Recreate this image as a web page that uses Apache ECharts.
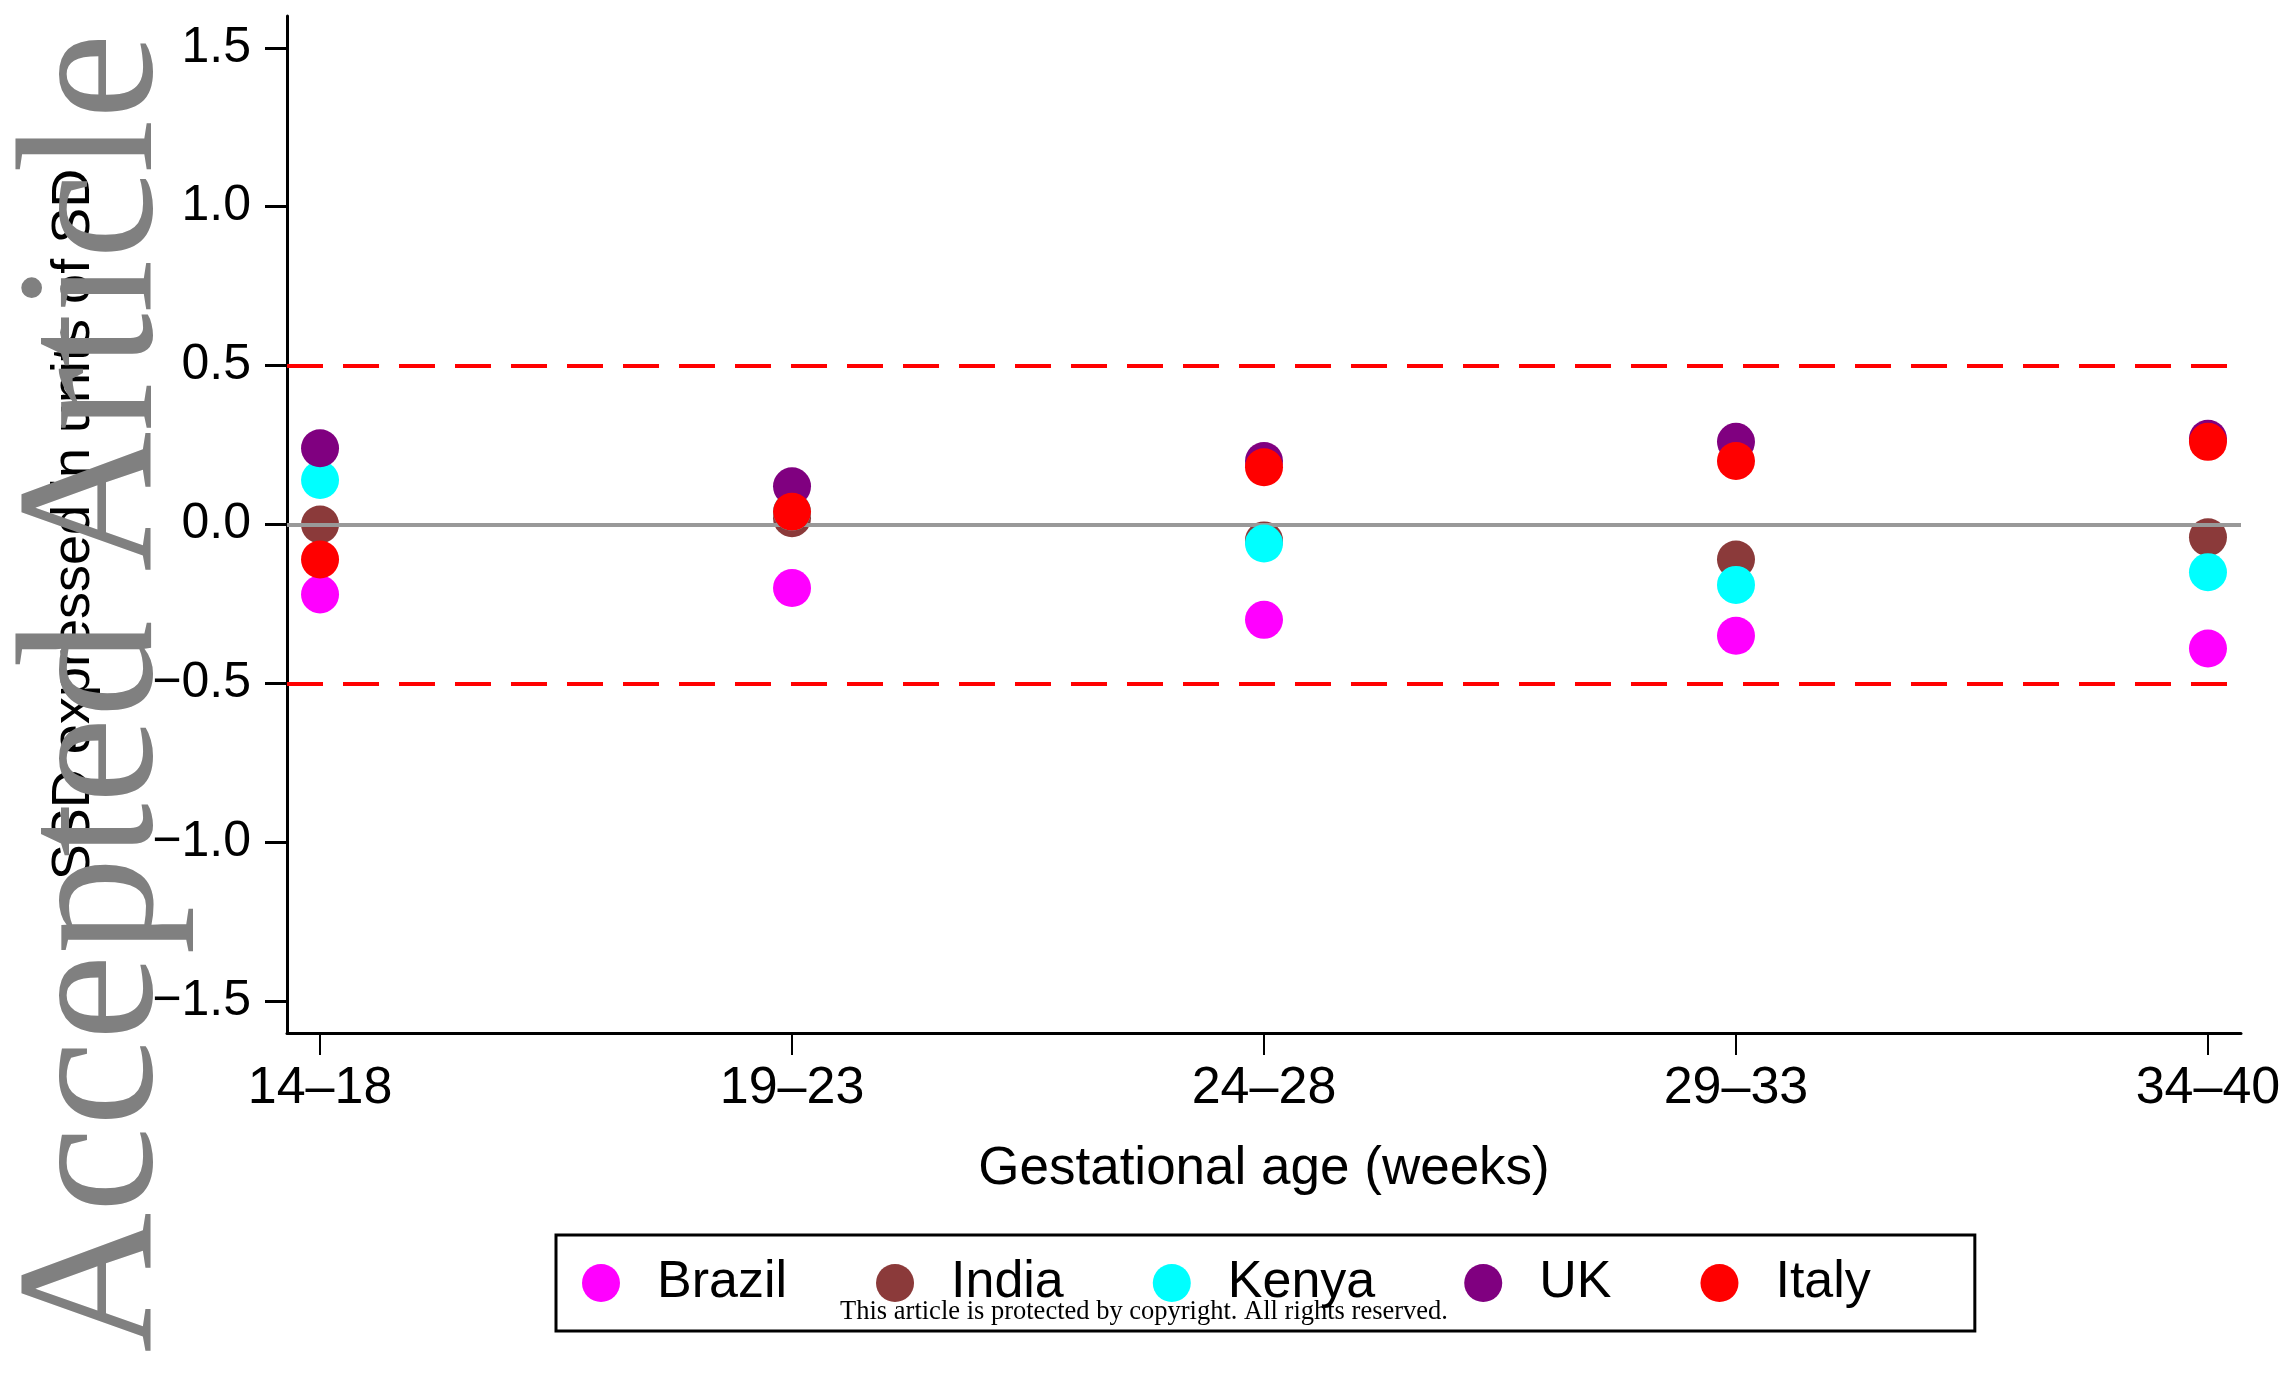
<!DOCTYPE html>
<html>
<head>
<meta charset="utf-8">
<script src="https://cdn.jsdelivr.net/npm/echarts@6/dist/echarts.min.js"></script>
<style>
    html, body { margin: 0; padding: 0; background: #fff; }
    #chart { width: 2289px; height: 1394px; }
</style>
</head>
<body>
<div id="chart"></div>
<script>
// gestational age groups (x axis)
var ageGroups = ['14–18', '19–23', '24–28', '29–33', '34–40'];
var yTicks = [-1.5, -1.0, -0.5, 0, 0.5, 1.0, 1.5];
var countries = ['Brazil', 'India', 'Kenya', 'UK', 'Italy'];
var countryColors = ['#ff00ff', '#8b3a3a', '#00ffff', '#800080', '#ff0000'];

// SSD in units of SD, one value per age group
var brazil = [-0.22, -0.20, -0.30, -0.35, -0.39];
var india = [0.00, 0.02, -0.05, -0.11, -0.04];
var kenya = [0.14, 0.04, -0.06, -0.19, -0.15];
var uk = [0.24, 0.12, 0.20, 0.26, 0.27];
var italy = [-0.11, 0.04, 0.18, 0.20, 0.26];

var limits = [-0.5, 0.5];

window.onload = function () {
    drawChart();
}

function drawChart() {
    var chart = echarts.init(document.getElementById('chart'));
    var values = [brazil, india, kenya, uk, italy];
    var font = 'Liberation Sans, Arial, Helvetica, sans-serif';

    var series = [
        {
            // reference lines, under the dots
            name: 'ref',
            type: 'line',
            data: [],
            z: 1,
            markLine: {
                silent: true,
                symbol: 'none',
                label: { show: false },
                data: [
                    { yAxis: 0, lineStyle: { color: '#999999', width: 4, type: 'solid' } },
                    { yAxis: limits[0], lineStyle: { color: '#ff0000', width: 4, type: [36, 20] } },
                    { yAxis: limits[1], lineStyle: { color: '#ff0000', width: 4, type: [36, 20] } }
                ]
            }
        }
    ];
    countries.forEach(function (c, i) {
        series.push({
            name: c,
            type: 'scatter',
            symbol: 'circle',
            symbolSize: 38,
            z: 3 + i,
            itemStyle: { color: countryColors[i], opacity: 1 },
            data: values[i].map(function (v, k) { return [k, v]; })
        });
    });

    var option = {
        backgroundColor: '#ffffff',
        animation: false,
        grid: { left: 287, right: 48, top: 16, bottom: 361 },
        xAxis: {
            type: 'value',
            min: -0.07,
            max: 4.07,
            name: 'Gestational age (weeks)',
            nameLocation: 'middle',
            nameGap: 110,
            nameTextStyle: { fontFamily: font, fontSize: 53, color: '#000' },
            splitLine: { show: false },
            axisLine: { onZero: false, lineStyle: { color: '#000', width: 3 } },
            axisTick: { show: true, length: 22, lineStyle: { color: '#000', width: 2 }, customValues: [0, 1, 2, 3, 4] },
            axisLabel: {
                customValues: [0, 1, 2, 3, 4],
                margin: 30,
                fontFamily: font,
                fontSize: 52,
                color: '#000',
                formatter: function (v) { return ageGroups[Math.round(v)]; }
            }
        },
        yAxis: {
            type: 'value',
            min: -1.6,
            max: 1.6,
            name: 'SSD expressed in units of SD',
            nameLocation: 'middle',
            nameRotate: 90,
            nameGap: 186,
            nameTextStyle: { fontFamily: font, fontSize: 54, color: '#000' },
            splitLine: { show: false },
            axisLine: { onZero: false, lineStyle: { color: '#000', width: 3 } },
            axisTick: { show: true, length: 22, lineStyle: { color: '#000', width: 3 }, customValues: yTicks },
            axisLabel: {
                customValues: yTicks,
                margin: 36,
                fontFamily: font,
                fontSize: 50,
                color: '#000',
                formatter: function (v) {
                    return (v < 0 ? '\u2212' : '') + Math.abs(v).toFixed(1);
                }
            }
        },
        legend: {
            data: countries,
            left: 556,
            top: 1235,
            orient: 'horizontal',
            selectedMode: false,
            itemWidth: 38,
            itemHeight: 38,
            itemGap: 89,
            padding: [22, 104, 22, 26],
            borderColor: '#000',
            borderWidth: 3,
            borderRadius: 0,
            textStyle: { fontFamily: font, fontSize: 52, color: '#000', padding: [0, 0, 0, 32] }
        },
        graphic: [
            {
                type: 'text',
                z: 100,
                x: 1144,
                y: 1312,
                style: {
                    text: 'This article is protected by copyright. All rights reserved.',
                    fontFamily: 'Liberation Serif, Times New Roman, serif',
                    fontSize: 26.5,
                    fill: '#000',
                    align: 'center',
                    verticalAlign: 'middle'
                }
            },
            {
                type: 'text',
                z: 100,
                x: 100,
                y: 693,
                rotation: Math.PI / 2,
                style: {
                    text: 'Accepted Article',
                    fontFamily: 'Liberation Serif, Times New Roman, serif',
                    fontSize: 194,
                    fill: '#808080',
                    align: 'center',
                    verticalAlign: 'middle'
                }
            }
        ],
        series: series
    };

    chart.setOption(option);
    return chart;
}
</script>
</body>
</html>
